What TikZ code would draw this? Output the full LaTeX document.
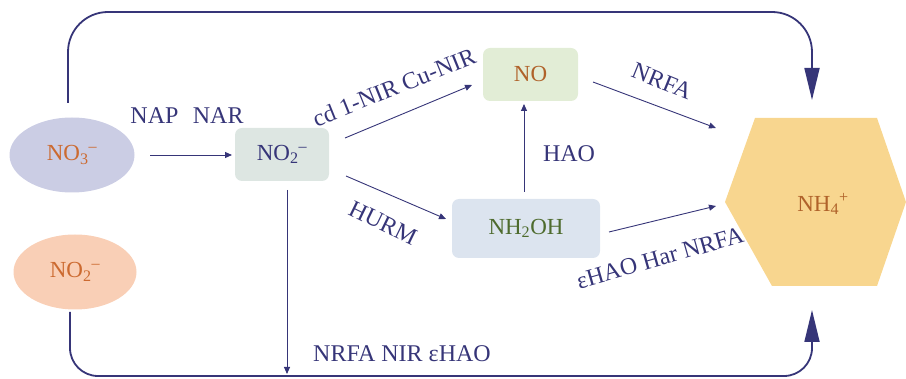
\documentclass[tikz,border=0pt]{standalone}
\usepackage{fontspec}
\setmainfont{Liberation Serif}
\usetikzlibrary{arrows.meta,shapes.geometric}
\definecolor{navy}{HTML}{363578}
\definecolor{lav}{HTML}{CBCDE4}
\definecolor{peach}{HTML}{F9CFB6}
\definecolor{boxgrey}{HTML}{DDE6E2}
\definecolor{boxgreen}{HTML}{E2EDD6}
\definecolor{boxblue}{HTML}{DCE4EF}
\definecolor{hexyel}{HTML}{F8D68F}
\definecolor{orangetxt}{HTML}{CC6A30}
\definecolor{browntxt}{HTML}{B0622A}
\definecolor{greentxt}{HTML}{4E6B2E}
\tikzset{
  species/.style={font=\fontsize{23}{26}\selectfont, inner sep=0pt},
  blob/.style={ellipse, minimum width=125pt, minimum height=75pt, species},
  rbox/.style={rounded corners=7pt, species},
  lbl/.style={font=\fontsize{24}{26}\selectfont, text=navy, inner sep=0pt},
  thin arrow/.style={draw=navy, line width=0.9pt, -{Triangle[length=7pt,width=6pt]}},
  loop/.style={draw=navy, line width=1.8pt, rounded corners=40pt},
  bigtip/.style={-{Triangle[length=32pt,width=15pt]}}
}
\begin{document}
\begin{tikzpicture}[x=1pt,y=-1pt]
\useasboundingbox (0,0) rectangle (906,379);
% hexagon
\fill[hexyel] (755,118) -- (877,118) -- (906,202) -- (877,286) -- (772,286) -- (725,202) -- cycle;
\node[species, text=browntxt] (nh4) at (823,204) {NH\textsubscript{4}\textsuperscript{+}};
\coordinate (nh4top) at (812,100);
\coordinate (nh4bot) at (812,310);
% ellipses
\node[blob, fill=lav, text=orangetxt] (no3) at (72,155) {NO\textsubscript{3}\textsuperscript{--}};
\node[blob, fill=peach, text=orangetxt, minimum width=123pt] (no2e) at (75,272) {NO\textsubscript{2}\textsuperscript{--}};
% boxes
\node[rbox, fill=boxgrey, text=navy, minimum width=94pt, minimum height=53pt] (no2) at (282,154.5) {NO\textsubscript{2}\textsuperscript{--}};
\node[rbox, fill=boxgreen, text=browntxt, minimum width=95pt, minimum height=53pt] (no) at (530.5,74.5) {NO};
\node[rbox, fill=boxblue, text=greentxt, minimum width=148pt, minimum height=59pt] (nh2oh) at (526,228.5) {NH\textsubscript{2}OH};
% loops
\draw[loop] (68,103) -- (68,12) -- (812,12) [rounded corners=0pt, bigtip] -- (nh4top);
\draw[loop, rounded corners=28pt] (70,312) -- (70,376) -- (812,376) [rounded corners=0pt, bigtip] -- (nh4bot);
% thin arrows
\coordinate (a1s) at (150,155); \coordinate (a1e) at (232,155);
\draw[thin arrow] (a1s) -- (a1e);
\coordinate (a2s) at (345,138); \coordinate (a2e) at (472,85);
\draw[thin arrow] (a2s) -- (a2e);
\coordinate (a3s) at (346,176); \coordinate (a3e) at (446,219);
\draw[thin arrow] (a3s) -- (a3e);
\coordinate (a4s) at (524,192); \coordinate (a4e) at (524,104);
\draw[thin arrow] (a4s) -- (a4e);
\coordinate (a5s) at (593,82); \coordinate (a5e) at (716,128);
\draw[thin arrow] (a5s) -- (a5e);
\coordinate (a6s) at (609,232); \coordinate (a6e) at (716,206);
\draw[thin arrow] (a6s) -- (a6e);
\coordinate (a7s) at (287,190); \coordinate (a7e) at (287,374);
\draw[thin arrow] (a7s) -- (a7e);
% labels
\node[lbl] (lnap) at (187,116) {NAP\hspace{0.6em}NAR};
\node[lbl, rotate=22] (lcd) at (394,87) {cd 1-NIR Cu-NIR};
\node[lbl, rotate=-26] (lhurm) at (383,223) {HURM};
\node[lbl] (lhao) at (569,154) {HAO};
\node[lbl, rotate=-22] (lnrfa) at (662,81) {NRFA};
\node[lbl, rotate=16] (lhar) at (660,258) {εHAO Har NRFA};
\node[lbl] (lbot) at (402,354) {NRFA NIR εHAO};
\end{tikzpicture}
\end{document}
